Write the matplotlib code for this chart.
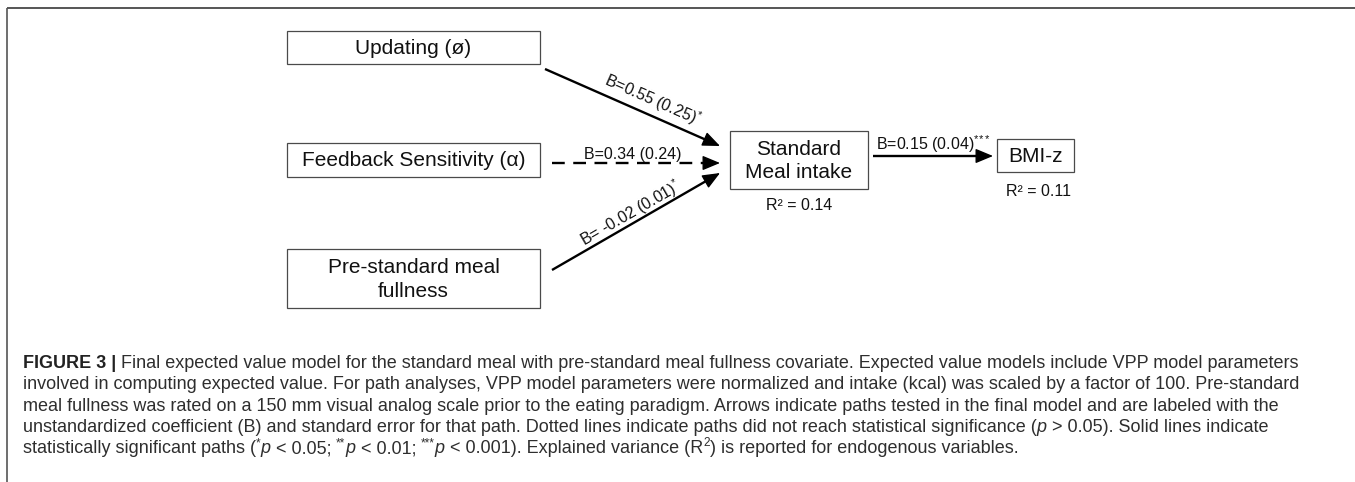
import matplotlib
matplotlib.use("Agg")
import matplotlib.pyplot as plt
from matplotlib.patches import Rectangle
import numpy as np

# ---- path model content ----
node_labels = ["Updating (ø)", "Feedback Sensitivity (α)", "Pre-standard meal\nfullness",
               "Standard\nMeal intake", "BMI-z"]
path_from = [0, 1, 2, 3]
path_to = [3, 3, 3, 4]
path_b = [0.55, 0.34, -0.02, 0.15]
path_se = [0.25, 0.24, 0.01, 0.04]
path_stars = ["*", "", "*", "***"]
r2_nodes = [3, 4]
r2_values = [0.14, 0.11]

# ---- layout (pixel units, origin top-left) ----
W, H = 1355, 482
node_boxes = [(287, 31, 540, 64), (287, 143, 540, 177), (287, 249, 540, 308),
              (730, 131, 868, 189), (997, 139, 1074, 172)]
edge_start = [(545, 69), (552, 163), (552, 270), (873, 156)]
edge_end = [(720, 146), (720, 163), (720, 173), (993, 156)]
label_t = [0.58, 0.48, 0.5, 0.5]
label_off = [15, 8, 10, 12]
r2_pos = [(799, 206), (1039, 191)]

FONT = ["Liberation Sans", "DejaVu Sans"]
plt.rcParams["font.family"] = FONT
plt.rcParams["mathtext.fontset"] = "custom"
plt.rcParams["mathtext.rm"] = "Liberation Sans"
plt.rcParams["mathtext.it"] = "Liberation Sans:italic"
plt.rcParams["mathtext.bf"] = "Liberation Sans:bold"

fig = plt.figure(figsize=(W / 100, H / 100), dpi=100)
ax = fig.add_axes([0, 0, 1, 1])
ax.set_xlim(0, W)
ax.set_ylim(H, 0)
ax.axis("off")

# page frame
ax.plot([7, W], [8, 8], color="#555555", lw=1.4, solid_capstyle="butt")
ax.plot([7, 7], [8, 482], color="#555555", lw=1.2, solid_capstyle="butt")

# nodes
for (x0, y0, x1, y1), lab in zip(node_boxes, node_labels):
    ax.add_patch(Rectangle((x0, y0), x1 - x0, y1 - y0, fill=False,
                           edgecolor="#4a4a4a", lw=0.9))
    ax.text((x0 + x1) / 2, (y0 + y1) / 2 + 1, lab, ha="center", va="center",
            fontsize=15, color="#111111", linespacing=1.3)


def path_label(b, se, stars):
    sep = " " if b < 0 else ""
    s = f"B={sep}{b:.2f} ({se:.2f})"
    if stars:
        s += r"$^{" + r"\!".join(["*"] * len(stars)) + r"}$"
    return s


def display_angle(p0, p1):
    d0 = ax.transData.transform(p0)
    d1 = ax.transData.transform(p1)
    return np.degrees(np.arctan2(d1[1] - d0[1], d1[0] - d0[0]))


# paths
for i in range(len(path_b)):
    (sx, sy), (ex, ey) = edge_start[i], edge_end[i]
    solid = path_stars[i] != ""
    vx, vy = ex - sx, ey - sy
    L = np.hypot(vx, vy)
    ux, uy = vx / L, vy / L
    head = 14
    hx, hy = ex - ux * head, ey - uy * head
    if solid:
        ax.plot([sx, hx + ux * 2], [sy, hy + uy * 2], color="black", lw=1.7,
                solid_capstyle="butt")
    else:
        ax.plot([sx, hx + ux * 2], [sy, hy + uy * 2], color="black", lw=1.7,
                linestyle=(0, (5.4, 3.6)), dash_capstyle="butt")
    ax.annotate("", xy=(ex, ey), xytext=(hx, hy),
                arrowprops=dict(arrowstyle="-|>,head_length=0.6,head_width=0.25",
                                color="black", lw=1.0, mutation_scale=18,
                                shrinkA=0, shrinkB=0))
    # label above the path, rotated with it
    t = label_t[i]
    px, py = sx + vx * t, sy + vy * t
    nx, ny = uy, -ux  # normal pointing up-screen
    if ny > 0:
        nx, ny = -nx, -ny
    lx, ly = px + nx * label_off[i], py + ny * label_off[i]
    ang = display_angle((sx, sy), (ex, ey))
    ax.text(lx, ly, path_label(path_b[i], path_se[i], path_stars[i]),
            rotation=ang, rotation_mode="anchor", ha="center", va="center",
            fontsize=11.5, color="#111111")

# explained variance
for n, v, (x, y) in zip(r2_nodes, r2_values, r2_pos):
    ax.text(x, y, f"R² = {v:.2f}", ha="center", va="center", fontsize=11.5,
            color="#111111")

# ---- caption ----
renderer = fig.canvas.get_renderer()


def run_width(s, **kw):
    t1 = ax.text(0, 0, "|" + s + "|", **kw)
    t2 = ax.text(0, 0, "||", **kw)
    w = t1.get_window_extent(renderer).width - t2.get_window_extent(renderer).width
    t1.remove()
    t2.remove()
    return w


BODY = dict(color="#2e2e2e")
BOLD = dict(color="#222222", fontweight="bold")
ITAL = dict(color="#2e2e2e", fontstyle="italic")
SUP = "sup"

caption = [
    [("FIGURE 3 | ", BOLD),
     ("Final expected value model for the standard meal with pre-standard meal fullness "
      "covariate. Expected value models include VPP model parameters", BODY)],
    [("involved in computing expected value. For path analyses, VPP model parameters were "
      "normalized and intake (kcal) was scaled by a factor of 100. Pre-standard", BODY)],
    [("meal fullness was rated on a 150 mm visual analog scale prior to the eating paradigm. "
      "Arrows indicate paths tested in the final model and are labeled with the", BODY)],
    [("unstandardized coefficient (B) and standard error for that path. Dotted lines indicate "
      "paths did not reach statistical significance (", BODY), ("p", ITAL),
     (" > 0.05). Solid lines indicate", BODY)],
    [("statistically significant paths (", BODY), ("*", SUP), ("p", ITAL),
     (" < 0.05; ", BODY), ("**", SUP), ("p", ITAL), (" < 0.01; ", BODY), ("***", SUP),
     ("p", ITAL), (" < 0.001). Explained variance (R", BODY), ("2", SUP),
     (") is reported for endogenous variables.", BODY)],
]

base = 12.0
w1 = sum(run_width(s, fontsize=base, **st) for s, st in caption[0])
cap_size = base * 1280 / w1
cap_x0 = 23
baselines = [368, 389.3, 410.6, 431.9, 453.2]
for line, yb in zip(caption, baselines):
    x = cap_x0
    for s, st in line:
        if st is SUP:
            kw = dict(fontsize=cap_size * 0.65, **BODY)
            ax.text(x, yb - cap_size * 0.55, s, ha="left", va="baseline", **kw)
        else:
            kw = dict(fontsize=cap_size, **st)
            ax.text(x, yb, s, ha="left", va="baseline", **kw)
        x += run_width(s, **kw)

fig.savefig("out.png", dpi=100)
